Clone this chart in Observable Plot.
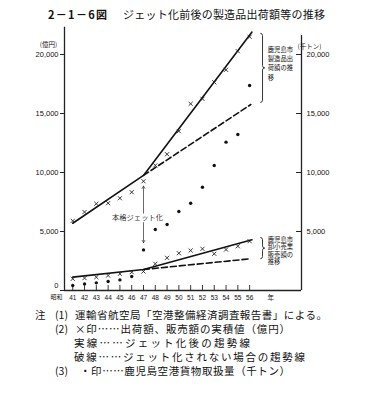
<!DOCTYPE html>
<html><head><meta charset="utf-8">
<script src="https://cdn.jsdelivr.net/npm/d3@7"></script>
<script src="https://cdn.jsdelivr.net/npm/@observablehq/plot@0.6"></script>
<style>
body{margin:0;background:#fff;}
#wrap{position:relative;width:369px;height:404px;overflow:hidden;font-family:"Noto Sans CJK JP",sans-serif;color:#111;}
#chart{position:absolute;left:0;top:0;}
#over{position:absolute;left:0;top:0;pointer-events:none;}
</style></head>
<body>
<div id="wrap"><div id="chart"></div>
<svg id="over" width="369" height="404" font-family="Noto Sans CJK JP, sans-serif" fill="#111">
  <text x="48" y="19" font-size="11" font-weight="700" textLength="59" lengthAdjust="spacing">2－1－6図</text>
  <text x="123" y="19" font-size="11" textLength="202" lengthAdjust="spacing">ジェット化前後の製造品出荷額等の推移</text>
  <g font-size="10.5">
    <text x="35" y="319">注</text>
    <text x="55" y="319">(1)</text>
    <text x="75" y="319" textLength="252" lengthAdjust="spacing">運輸省航空局「空港整備経済調査報告書」による。</text>
    <text x="55" y="332.5">(2)</text>
    <text x="75" y="332.5" textLength="215" lengthAdjust="spacing">×印……出荷額、販売額の実積値（億円）</text>
    <text x="74" y="346.5" textLength="176" lengthAdjust="spacing">実線……ジェット化後の趨勢線</text>
    <text x="74" y="361" textLength="231" lengthAdjust="spacing">破線……ジェット化されない場合の趨勢線</text>
    <text x="55" y="375">(3)</text>
    <text x="80" y="375" textLength="210" lengthAdjust="spacing">・印……鹿児島空港貨物取扱量（千トン）</text>
  </g>
</svg>
</div>
<script>
// ---- data (昭和 years) ----
const years = [41,42,43,44,45,46,47,48,49,50,51,52,53,54,55,56];
// 鹿児島市製造品出荷額 (億円, × marks)
const shipments = [5900,6650,7350,7400,7820,8330,9260,10600,11550,13500,15820,16240,17650,18700,20280,21500];
// 鹿児島市卸小売業販売額 (億円, × marks)
const sales = [990,1050,1130,1270,1410,1550,1610,2260,2770,3160,3390,3530,3110,3470,3750,4180];
// 鹿児島空港貨物取扱量 (千トン, • marks)
const cargo = [420,560,650,760,900,1190,3440,5170,5590,6690,7400,8750,10590,12570,13220,17370];
// trend lines
const solidYears = [41,47,56.2];
const shipSolid = [5700,9750,21900];
const salesSolid = [1130,1780,4300];
const dashedYears = [47,56.1];
const shipDashed = [9750,15760];
const salesDashed = [1780,2690];
// axes
const yTicks = [0,5000,10000,15000,20000];
const yLabelsLeft = [5000,10000,15000,20000];
const yTicksRight = [5000,10000,15000,20000];
// annotations
const jetYear = 47;
const jetArrowFrom = [6550,5750];
const jetArrowTo = [8850,4050];
const jetLabel = "本格ジェット化";
const jetLabelValue = 6150;
const braceYear = 56.95;
const braceTop = [21750,4450];
const braceBottom = [15900,2650];
const upperBraceLabel = "鹿児島市\n製造品出\n荷額の推\n移";
const lowerBraceLabel = "鹿児島市\n卸小売業\n販売額の\n推移";
const upperBraceLabelTop = 20750;
const lowerBraceLabelTop = 4600;

const X0 = 40.3, X1 = 60.4;
const fmt = d3.format(",");
const numFont = "Liberation Sans, DejaVu Sans, sans-serif";

function braces(index, scales) {
  const ns = "http://www.w3.org/2000/svg";
  const g = document.createElementNS(ns, "g");
  const w = 2.2;
  braceTop.forEach((t, i) => {
    const x = scales.x(braceYear);
    const y1 = scales.y(t), y2 = scales.y(braceBottom[i]), ym = (y1 + y2) / 2;
    const p = d3.path();
    p.moveTo(x, y1);
    p.quadraticCurveTo(x + w, y1, x + w, y1 + w);
    p.lineTo(x + w, ym - w);
    p.quadraticCurveTo(x + w, ym, x + 2 * w, ym);
    p.quadraticCurveTo(x + w, ym, x + w, ym + w);
    p.lineTo(x + w, y2 - w);
    p.quadraticCurveTo(x + w, y2, x, y2);
    const path = document.createElementNS(ns, "path");
    path.setAttribute("d", p.toString());
    path.setAttribute("fill", "none");
    path.setAttribute("stroke", "#222");
    path.setAttribute("stroke-width", "0.9");
    g.appendChild(path);
  });
  return g;
}

const chart = Plot.plot({
  width: 369, height: 304,
  marginLeft: 64, marginRight: 68, marginTop: 54, marginBottom: 14,
  x: {domain: [X0, X1], axis: null},
  y: {domain: [0, 20000], axis: null},
  style: {fontFamily: "Noto Sans CJK JP, sans-serif", color: "#111", background: "transparent", overflow: "visible"},
  marks: [
    Plot.ruleX([X0], {y1: 0, y2: 22300, stroke: "#222", strokeWidth: 1.3}),
    Plot.ruleX([X1], {y1: 0, y2: 21600, stroke: "#222", strokeWidth: 1.3}),
    Plot.ruleY([0], {x1: X0, x2: X1, stroke: "#222", strokeWidth: 1.3}),
    Plot.axisY({anchor: "left", ticks: yTicks, tickSize: 4, text: null, label: null, stroke: "#222"}),
    Plot.text(yLabelsLeft, {x: () => X0, y: d => d, dx: -6, textAnchor: "end", text: d => fmt(d), fontSize: 7.5, fontFamily: numFont}),
    Plot.text([0], {x: () => X0, y: d => d, dx: -6, dy: -5, textAnchor: "end", text: d => fmt(d), fontSize: 7.5, fontFamily: numFont}),
    Plot.axisY({anchor: "right", ticks: yTicksRight, tickSize: 0, tickPadding: 5, tickFormat: fmt, fontSize: 7.5, fontFamily: numFont, label: null}),
    Plot.ruleY(yTicksRight, {x1: X1 - 0.42, x2: X1, stroke: "#222", strokeWidth: 1}),
    Plot.ruleX(years, {y1: 0, y2: 420, stroke: "#222", strokeWidth: 0.9}),
    Plot.text(years, {x: d => d, y: 0, dy: 7, text: d => String(d), fontSize: 6.5, fontFamily: numFont}),
    Plot.text(["昭和"], {x: X0, y: 0, dy: 7, dx: -2, textAnchor: "end", fontSize: 6}),
    Plot.text(["年"], {x: 57.8, y: 0, dy: 7, fontSize: 6.5}),
    Plot.text(["(億円)"], {x: X0, dx: -16, y: 20850, fontSize: 6.5}),
    Plot.text(["(千トン)"], {x: X1, dx: 8, y: 20650, fontSize: 6.5}),
    // trend lines
    Plot.line(solidYears, {x: d => d, y: (d, i) => shipSolid[i], stroke: "#111", strokeWidth: 1.6}),
    Plot.line(dashedYears, {x: d => d, y: (d, i) => shipDashed[i], stroke: "#111", strokeWidth: 1.6, strokeDasharray: "6,3"}),
    Plot.line(solidYears, {x: d => d, y: (d, i) => salesSolid[i], stroke: "#111", strokeWidth: 1.6}),
    Plot.line(dashedYears, {x: d => d, y: (d, i) => salesDashed[i], stroke: "#111", strokeWidth: 1.6, strokeDasharray: "6,3"}),
    // points
    Plot.dot(years, {x: d => d, y: (d, i) => shipments[i], symbol: "times", r: 2, stroke: "#222", strokeWidth: 0.9}),
    Plot.dot(years, {x: d => d, y: (d, i) => sales[i], symbol: "times", r: 2, stroke: "#222", strokeWidth: 0.9}),
    Plot.dot(years, {x: d => d, y: (d, i) => cargo[i], r: 1.7, fill: "#111", stroke: "none"}),
    // jet arrow
    Plot.arrow(jetArrowFrom, {x1: () => jetYear, x2: () => jetYear, y1: d => d, y2: (d, i) => jetArrowTo[i], headLength: 5, strokeWidth: 0.8, stroke: "#444"}),
    Plot.text([jetLabel], {x: () => jetYear, y: () => jetLabelValue, dx: -6, fontSize: 7.3, fill: "#333"}),
    // braces
    braces,
    Plot.text([upperBraceLabel], {x: () => braceYear, y: () => upperBraceLabelTop, dx: 7, textAnchor: "start", lineAnchor: "top", lineHeight: 1.45, fontSize: 6.3, text: d => d}),
    Plot.text([lowerBraceLabel], {x: () => braceYear, y: () => lowerBraceLabelTop, dx: 7, textAnchor: "start", lineAnchor: "top", lineHeight: 1.2, fontSize: 6.3, text: d => d})
  ]
});
document.getElementById("chart").appendChild(chart);
</script>
</body></html>
